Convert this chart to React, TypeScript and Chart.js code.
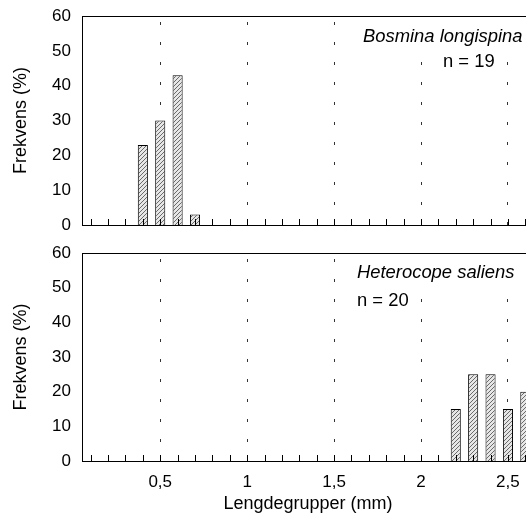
import React, { useEffect, useRef } from "react";
import { Chart, registerables } from "chart.js";

Chart.register(...registerables);

// Length groups (mm)
const lengthGroups: number[] = [
  0.1, 0.2, 0.3, 0.4, 0.5, 0.6, 0.7, 0.8, 0.9, 1.0,
  1.1, 1.2, 1.3, 1.4, 1.5, 1.6, 1.7, 1.8, 1.9, 2.0,
  2.1, 2.2, 2.3, 2.4, 2.5, 2.6,
];

// Frequency (%) per length group
const bosminaValues: number[] = [
  0, 0, 0, 23, 30, 43, 3, 0, 0, 0,
  0, 0, 0, 0, 0, 0, 0, 0, 0, 0,
  0, 0, 0, 0, 0, 0,
];
const heterocopeValues: number[] = [
  0, 0, 0, 0, 0, 0, 0, 0, 0, 0,
  0, 0, 0, 0, 0, 0, 0, 0, 0, 0,
  0, 15, 25, 25, 15, 20,
];

// Labelled x values (also carry dotted reference lines)
const labelledGroups: number[] = [0.5, 1.0, 1.5, 2.0, 2.5];

const yMin = 0;
const yMax = 60;
const yStep = 10;

const bosminaName = "Bosmina longispina";
const bosminaN = "n = 19";
const heterocopeName = "Heterocope saliens";
const heterocopeN = "n = 20";

const yTitle = "Frekvens (%)";
const xTitle = "Lengdegrupper (mm)";

const FONT = "'Liberation Sans', Arial, Helvetica, sans-serif";

function isLabelled(v: number) {
  return labelledGroups.some((g) => Math.abs(g - v) < 1e-6);
}

function makeHatch(): CanvasPattern | string {
  const c = document.createElement("canvas");
  c.width = 4;
  c.height = 4;
  const g = c.getContext("2d");
  if (!g) return "#bbb";
  g.fillStyle = "#e6e6e6";
  g.fillRect(0, 0, 4, 4);
  g.fillStyle = "#6a6a6a";
  g.fillRect(3, 0, 1, 1);
  g.fillRect(2, 1, 1, 1);
  g.fillRect(1, 2, 1, 1);
  g.fillRect(0, 3, 1, 1);
  const p = g.createPattern(c, "repeat");
  return p || "#bbb";
}

type PanelProps = {
  values: number[];
  name: string;
  nLabel: string;
  nameX: number;
  nameY: number;
  nX: number;
  nY: number;
  showXLabels: boolean;
  width: number;
  height: number;
  xAxisHeight: number;
  topPad: number;
};

function Panel(p: PanelProps) {
  const ref = useRef<HTMLCanvasElement | null>(null);
  useEffect(() => {
    const canvas = ref.current;
    if (!canvas) return;
    const hatch = makeHatch();

    const panelPlugin = {
      id: "panelDecor",
      afterDatasetsDraw(chart: any) {
        const { ctx, chartArea } = chart;
        const xs = chart.scales.x;
        ctx.save();
        ctx.strokeStyle = "#000";
        ctx.lineWidth = 1;
        ctx.beginPath();
        lengthGroups.forEach((_, i) => {
          const px = Math.round(xs.getPixelForValue(i)) + 0.5;
          ctx.moveTo(px, chartArea.bottom);
          ctx.lineTo(px, chartArea.bottom - 6);
        });
        ctx.stroke();
        ctx.restore();
      },
      afterDraw(chart: any) {
        const { ctx, chartArea } = chart;
        ctx.save();
        // frame top line
        ctx.strokeStyle = "#000";
        ctx.lineWidth = 1;
        ctx.beginPath();
        ctx.moveTo(chartArea.left, Math.round(chartArea.top) + 0.5);
        ctx.lineTo(chartArea.right, Math.round(chartArea.top) + 0.5);
        ctx.stroke();
        // white box behind species name
        ctx.fillStyle = "#fff";
        ctx.fillRect(p.nameX - 6, chartArea.top + 1, chartArea.right - p.nameX + 6, p.nameY - chartArea.top + 12);
        ctx.fillStyle = "#000";
        ctx.textBaseline = "middle";
        ctx.textAlign = "left";
        ctx.font = `italic 18.4px ${FONT}`;
        ctx.fillText(p.name, p.nameX, p.nameY);
        ctx.font = `18.4px ${FONT}`;
        ctx.fillText(p.nLabel, p.nX, p.nY);
        ctx.restore();
      },
    };

    const chart = new Chart(canvas, {
      type: "bar",
      data: {
        labels: lengthGroups.map((v) => String(v)),
        datasets: [
          {
            data: p.values,
            backgroundColor: hatch as any,
            borderColor: "#000",
            borderWidth: 1,
            barPercentage: 0.58,
            categoryPercentage: 1,
          },
        ],
      },
      options: {
        responsive: false,
        maintainAspectRatio: false,
        animation: false,
        layout: { padding: { top: p.topPad, left: 0, right: 0, bottom: 0 } },
        plugins: {
          legend: { display: false },
          tooltip: { enabled: false },
        },
        scales: {
          x: {
            type: "category",
            offset: true,
            afterFit: (s: any) => {
              s.height = p.xAxisHeight;
              s.paddingLeft = 0;
              s.paddingRight = 0;
            },
            grid: {
              display: true,
              offset: false,
              drawTicks: false,
              lineWidth: 1,
              color: (c: any) =>
                c.index !== undefined && isLabelled(lengthGroups[c.index]) ? "#333" : "rgba(0,0,0,0)",
            },
            border: { display: true, color: "#000", width: 1, dash: [3, 17], dashOffset: 14 },
            ticks: {
              display: p.showXLabels,
              autoSkip: false,
              maxRotation: 0,
              minRotation: 0,
              padding: 10.8,
              color: "#000",
              font: { family: FONT, size: 17 },
              callback: (_v: any, i: number) => {
                const g = lengthGroups[i];
                return isLabelled(g) ? String(g).replace(".", ",") : "";
              },
            },
            title: {
              display: p.showXLabels,
              text: xTitle,
              color: "#000",
              font: { family: FONT, size: 18 },
              padding: { top: 0, bottom: 2.2 },
            },
          },
          y: {
            min: yMin,
            max: yMax,
            afterFit: (s: any) => {
              s.width = 82;
              s.paddingTop = 0;
              s.paddingBottom = 0;
            },
            grid: { display: false, drawTicks: false },
            border: { display: true, color: "#000", width: 1 },
            ticks: {
              stepSize: yStep,
              padding: 11,
              color: "#000",
              font: { family: FONT, size: 17 },
            },
            title: {
              display: true,
              text: yTitle,
              color: "#000",
              font: { family: FONT, size: 18 },
              padding: { top: 10.7, bottom: 0 },
            },
          },
        },
      },
      plugins: [panelPlugin],
    });
    return () => chart.destroy();
  }, []);
  return <canvas ref={ref} width={p.width} height={p.height} style={{ display: "block" }} />;
}

export default function App() {
  return (
    <div
      style={{
        position: "absolute",
        left: 0,
        top: 0,
        width: 526,
        height: 517,
        overflow: "hidden",
        background: "#fff",
      }}
    >
      <div style={{ position: "absolute", left: 0, top: 0 }}>
        <Panel
          values={bosminaValues}
          name={bosminaName}
          nLabel={bosminaN}
          nameX={363}
          nameY={37}
          nX={443}
          nY={62}
          showXLabels={false}
          width={534}
          height={237}
          xAxisHeight={12}
          topPad={16}
        />
      </div>
      <div style={{ position: "absolute", left: 0, top: 237 }}>
        <Panel
          values={heterocopeValues}
          name={heterocopeName}
          nLabel={heterocopeN}
          nameX={357}
          nameY={36}
          nX={357}
          nY={64}
          showXLabels={true}
          width={534}
          height={280}
          xAxisHeight={56}
          topPad={16}
        />
      </div>
    </div>
  );
}
